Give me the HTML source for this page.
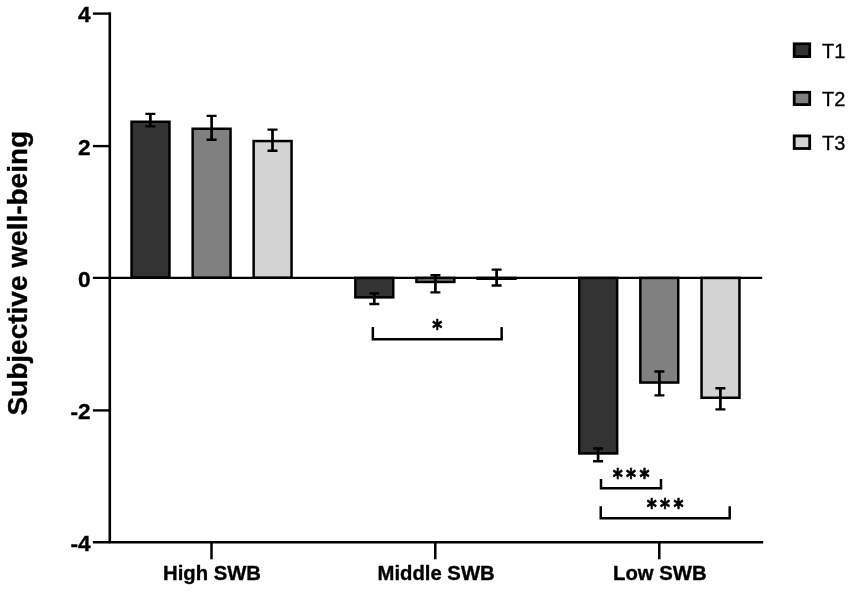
<!DOCTYPE html>
<html><head><meta charset="utf-8"><title>Subjective well-being</title>
<style>html,body{margin:0;padding:0;background:#fff}svg{display:block;will-change:transform}
.t{font-family:"Liberation Sans",sans-serif;fill:#000}
.a{font-family:"DejaVu Sans","Liberation Sans",sans-serif;font-weight:bold;font-size:22.8px;letter-spacing:3.96px;fill:#000;stroke:#000;stroke-width:.7;stroke-linejoin:round}
</style>
</head><body>
<svg width="851" height="591" viewBox="0 0 851 591">
<rect width="851" height="591" fill="#fff"/>
<rect x="131.55" y="121.75" width="37.90" height="156.00" fill="#333333" stroke="#000" stroke-width="2.5"/>
<rect x="192.65" y="128.75" width="37.90" height="149.00" fill="#808080" stroke="#000" stroke-width="2.5"/>
<rect x="253.65" y="141.05" width="37.90" height="136.70" fill="#d3d3d3" stroke="#000" stroke-width="2.5"/>
<rect x="355.35" y="277.95" width="37.90" height="19.40" fill="#333333" stroke="#000" stroke-width="2.5"/>
<rect x="416.45" y="277.95" width="37.90" height="4.00" fill="#808080" stroke="#000" stroke-width="2.5"/>
<rect x="477.55" y="277.95" width="37.90" height="0.80" fill="#d3d3d3" stroke="#000" stroke-width="2.5"/>
<rect x="579.25" y="277.95" width="37.90" height="175.50" fill="#333333" stroke="#000" stroke-width="2.5"/>
<rect x="640.35" y="277.95" width="37.90" height="104.60" fill="#808080" stroke="#000" stroke-width="2.5"/>
<rect x="701.55" y="277.95" width="37.90" height="119.80" fill="#d3d3d3" stroke="#000" stroke-width="2.5"/>
<path d="M109.8 12.4V543.2" stroke="#000" stroke-width="2.6" fill="none"/>
<path d="M92.9 542.25H763.2" stroke="#000" stroke-width="2.7" fill="none"/>
<path d="M92.9 277.85H762.2" stroke="#000" stroke-width="2.3" fill="none"/>
<path d="M92.9 13.6H110" stroke="#000" stroke-width="2.4" fill="none"/>
<path d="M92.9 146.1H110" stroke="#000" stroke-width="2.4" fill="none"/>
<path d="M92.9 410.4H110" stroke="#000" stroke-width="2.4" fill="none"/>
<path d="M211.5 542V559.3" stroke="#000" stroke-width="2.5" fill="none"/>
<path d="M435.3 542V559.3" stroke="#000" stroke-width="2.5" fill="none"/>
<path d="M659.3 542V559.3" stroke="#000" stroke-width="2.5" fill="none"/>
<path d="M145.40 113.90H155.40M145.40 126.40H155.40" stroke="#000" stroke-width="2.4" fill="none"/><path d="M150.40 113.90V126.40" stroke="#000" stroke-width="2.7" fill="none"/>
<path d="M206.60 115.90H216.60M206.60 139.75H216.60" stroke="#000" stroke-width="2.4" fill="none"/><path d="M211.60 115.90V139.75" stroke="#000" stroke-width="2.7" fill="none"/>
<path d="M267.50 129.60H277.50M267.50 150.70H277.50" stroke="#000" stroke-width="2.4" fill="none"/><path d="M272.50 129.60V150.70" stroke="#000" stroke-width="2.7" fill="none"/>
<path d="M369.30 293.40H379.30M369.30 304.00H379.30" stroke="#000" stroke-width="2.4" fill="none"/><path d="M374.30 293.40V304.00" stroke="#000" stroke-width="2.7" fill="none"/>
<path d="M430.40 275.25H440.40M430.40 292.40H440.40" stroke="#000" stroke-width="2.4" fill="none"/><path d="M435.40 275.25V292.40" stroke="#000" stroke-width="2.7" fill="none"/>
<path d="M491.60 269.60H501.60M491.60 285.50H501.60" stroke="#000" stroke-width="2.4" fill="none"/><path d="M496.60 269.60V285.50" stroke="#000" stroke-width="2.7" fill="none"/>
<path d="M593.10 448.50H603.10M593.10 461.25H603.10" stroke="#000" stroke-width="2.4" fill="none"/><path d="M598.10 448.50V461.25" stroke="#000" stroke-width="2.7" fill="none"/>
<path d="M654.40 371.50H664.40M654.40 395.40H664.40" stroke="#000" stroke-width="2.4" fill="none"/><path d="M659.40 371.50V395.40" stroke="#000" stroke-width="2.7" fill="none"/>
<path d="M715.40 388.20H725.40M715.40 409.35H725.40" stroke="#000" stroke-width="2.4" fill="none"/><path d="M720.40 388.20V409.35" stroke="#000" stroke-width="2.7" fill="none"/>
<path d="M372.85 327.00V339.25H501.65V327.00" stroke="#000" stroke-width="2.5" fill="none" stroke-linejoin="miter"/>
<path d="M601.00 479.00V488.20H661.00V479.00" stroke="#000" stroke-width="2.5" fill="none" stroke-linejoin="miter"/>
<path d="M600.75 506.20V518.35H729.70V506.20" stroke="#000" stroke-width="2.5" fill="none" stroke-linejoin="miter"/>
<rect x="794.20" y="43.80" width="15.50" height="12.80" fill="#333333" stroke="#000" stroke-width="2.8"/>
<rect x="794.20" y="92.30" width="15.50" height="12.30" fill="#808080" stroke="#000" stroke-width="2.8"/>
<rect x="794.20" y="135.90" width="15.50" height="12.60" fill="#d3d3d3" stroke="#000" stroke-width="2.8"/>
<text x="90.7" y="22.4" text-anchor="end" class="t" stroke="#000" stroke-width="0.35" font-weight="bold" font-size="22.6">4</text>
<text x="90.7" y="154.9" text-anchor="end" class="t" stroke="#000" stroke-width="0.35" font-weight="bold" font-size="22.6">2</text>
<text x="90.7" y="286.65" text-anchor="end" class="t" stroke="#000" stroke-width="0.35" font-weight="bold" font-size="22.6">0</text>
<text x="90.7" y="419.2" text-anchor="end" class="t" stroke="#000" stroke-width="0.35" font-weight="bold" font-size="22.6">-2</text>
<text x="90.7" y="551.05" text-anchor="end" class="t" stroke="#000" stroke-width="0.35" font-weight="bold" font-size="22.6">-4</text>
<text x="212" y="580" text-anchor="middle" class="t" stroke="#000" stroke-width="0.35" font-weight="bold" font-size="20.3">High SWB</text>
<text x="436.1" y="580" text-anchor="middle" class="t" stroke="#000" stroke-width="0.35" font-weight="bold" font-size="20.3">Middle SWB</text>
<text x="659.8" y="580" text-anchor="middle" class="t" stroke="#000" stroke-width="0.35" font-weight="bold" font-size="20.3">Low SWB</text>
<text transform="translate(26.8 273.2) rotate(-90)" text-anchor="middle" class="t" stroke="#000" stroke-width="0.35" font-weight="bold" font-size="28">Subjective well-being</text>
<text transform="translate(432.22 336.03) scale(0.84 1)" class="a">*</text>
<text transform="translate(612.72 484.78) scale(0.84 1)" class="a">***</text>
<text transform="translate(646.77 515.18) scale(0.84 1)" class="a">***</text>
<text x="822.1" y="57.5" class="t" stroke="#000" stroke-width="0.3" font-size="20">T1</text>
<text x="822.1" y="105.7" class="t" stroke="#000" stroke-width="0.3" font-size="20">T2</text>
<text x="822.1" y="149.8" class="t" stroke="#000" stroke-width="0.3" font-size="20">T3</text>
</svg>
</body></html>
